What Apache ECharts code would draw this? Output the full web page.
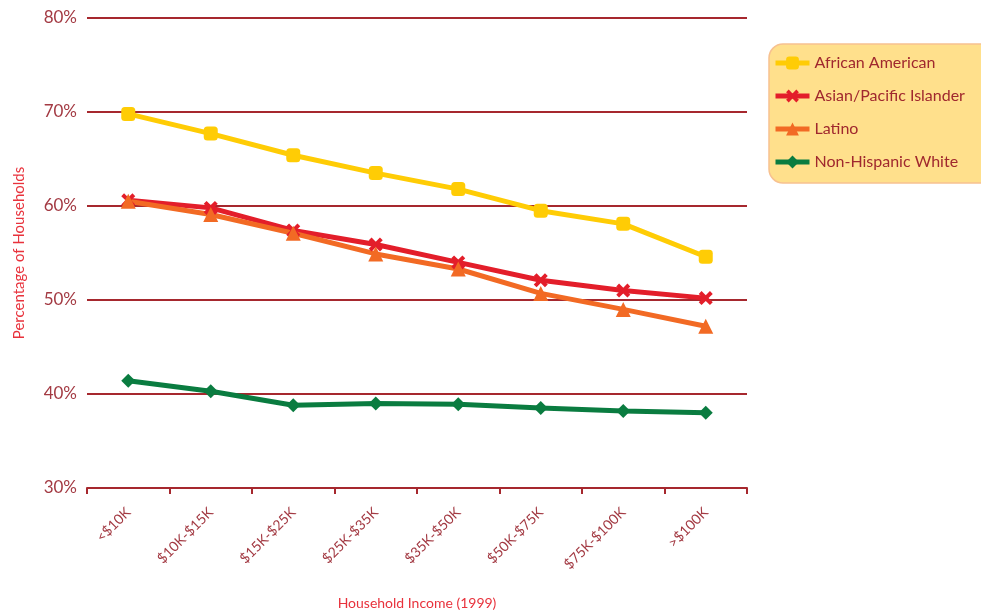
<!DOCTYPE html>
<html><head><meta charset="utf-8">
<script src="https://cdn.jsdelivr.net/npm/echarts@6/dist/echarts.min.js"></script>
<style>html,body{margin:0;padding:0;background:#fff}#c{width:981px;height:615px}</style>
</head><body><div id="c"></div>
<script>
const categories = ['<$10K','$10K-$15K','$15K-$25K','$25K-$35K','$35K-$50K','$50K-$75K','$75K-$100K','>$100K'];
const africanAmerican = [69.8, 67.7, 65.4, 63.5, 61.8, 59.5, 58.1, 54.6];
const asianPacific = [60.6, 59.8, 57.4, 55.9, 54.0, 52.1, 51.0, 50.2];
const latino = [60.5, 59.1, 57.1, 54.9, 53.3, 50.7, 49.0, 47.2];
const nonHispanicWhite = [41.4, 40.3, 38.8, 39.0, 38.9, 38.5, 38.2, 38.0];
const yTicks = [30, 40, 50, 60, 70, 80];

const xPath = 'path://M2,0 L5,3 L8,0 L10,2 L7,5 L10,8 L8,10 L5,7 L2,10 L0,8 L3,5 L0,2 Z';
const AXIS = '#A6282E';
const LBL = '#A33A43';
const NAMEC = '#E8323C';
const FONT = 'Lato, "Open Sans", sans-serif';

function mk(name, data, color, symbol, size) {
  return {
    name, type: 'line', data, symbol, symbolSize: size,
    lineStyle: { color, width: 5 },
    itemStyle: { color, borderWidth: 0 },
    emphasis: { disabled: true }
  };
}

const chart = echarts.init(document.getElementById('c'), null, { renderer: 'canvas' });
chart.setOption({
  animation: false,
  backgroundColor: '#fff',
  grid: { left: 87, right: 234, top: 18, bottom: 127, outerBoundsMode: 'none', containLabel: false },
  legend: {
    orient: 'vertical',
    left: 769, top: 44,
    padding: [11, 30, 13, 4],
    itemGap: 17,
    itemWidth: 34, itemHeight: 16,
    backgroundColor: '#FFE08C',
    borderColor: '#F7C190',
    borderWidth: 1.5,
    borderRadius: 14,
    lineStyle: { width: 5 },
    textStyle: { color: '#A0282E', fontSize: 16, fontFamily: FONT },
    data: ['African American', 'Asian/Pacific Islander', 'Latino', 'Non-Hispanic White']
  },
  xAxis: {
    type: 'category',
    data: categories,
    boundaryGap: true,
    name: 'Household Income (1999)',
    nameLocation: 'middle',
    nameGap: 108,
    nameTextStyle: { color: NAMEC, fontSize: 14, fontFamily: FONT },
    axisLine: { lineStyle: { color: AXIS, width: 2 } },
    axisTick: { show: true, length: 6, lineStyle: { color: AXIS, width: 2 } },
    axisLabel: { rotate: 45, color: LBL, fontSize: 14, fontFamily: FONT, margin: 22 },
    splitLine: { show: false }
  },
  yAxis: {
    type: 'value',
    min: yTicks[0], max: yTicks[yTicks.length - 1], interval: 10,
    name: 'Percentage of Households',
    nameLocation: 'middle',
    nameGap: 60,
    nameTextStyle: { color: NAMEC, fontSize: 15, fontFamily: FONT },
    axisLine: { show: false },
    axisTick: { show: false },
    axisLabel: { color: LBL, fontSize: 17, fontFamily: FONT, margin: 10, formatter: v => v + '%' },
    splitLine: { lineStyle: { color: AXIS, width: 2 } }
  },
  series: [
    mk('African American', africanAmerican, '#FFCC05', 'roundRect', 14),
    mk('Asian/Pacific Islander', asianPacific, '#E31E2A', xPath, 14),
    mk('Latino', latino, '#F26A24', 'triangle', 15),
    mk('Non-Hispanic White', nonHispanicWhite, '#0A7C40', 'diamond', 14)
  ]
});
</script></body></html>
